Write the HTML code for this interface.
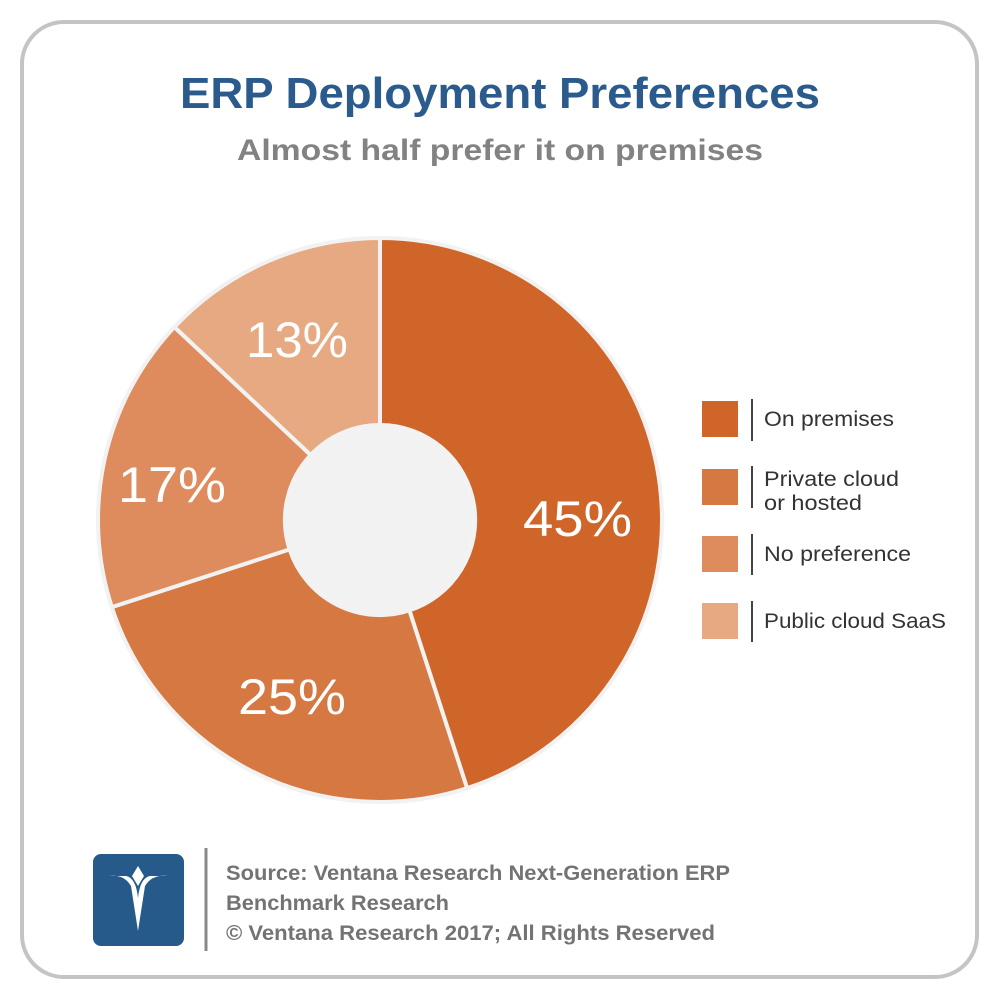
<!DOCTYPE html>
<html><head><meta charset="utf-8"><style>
html,body{margin:0;padding:0;background:#fff;}
svg{display:block;}
</style></head><body>
<svg width="999" height="999" viewBox="0 0 999 999" xmlns="http://www.w3.org/2000/svg" font-family="'Liberation Sans', sans-serif">
<rect x="0" y="0" width="999" height="999" fill="#fff"/>
<rect x="22" y="22" width="955" height="955" rx="42" fill="#fff" stroke="#c4c4c4" stroke-width="4"/>
<text x="180" y="108" textLength="640" lengthAdjust="spacingAndGlyphs" font-size="44" font-weight="bold" fill="#2b5b8c">ERP Deployment Preferences</text>
<text x="237" y="160" textLength="526" lengthAdjust="spacingAndGlyphs" font-size="30" font-weight="bold" fill="#828282">Almost half prefer it on premises</text>
<g stroke="#f2f2f2" stroke-width="4" stroke-linejoin="round">
<path d="M380,238 A282,282 0 0 1 467.1,788.2 L409.4,610.4 A95,95 0 0 0 380,425 Z" fill="#d0652a"/>
<path d="M467.1,788.2 A282,282 0 0 1 111.8,607.1 L289.6,549.4 A95,95 0 0 0 409.4,610.4 Z" fill="#d67841"/>
<path d="M111.8,607.1 A282,282 0 0 1 174.4,327 L310.7,455 A95,95 0 0 0 289.6,549.4 Z" fill="#de8c5e"/>
<path d="M174.4,327 A282,282 0 0 1 380,238 L380,425 A95,95 0 0 0 310.7,455 Z" fill="#e6a982"/>
</g>
<circle cx="380" cy="520" r="93" fill="#f2f2f2"/>
<g fill="#fff" font-size="50">
<text x="523" y="536" textLength="109" lengthAdjust="spacingAndGlyphs">45%</text>
<text x="238" y="714" textLength="108" lengthAdjust="spacingAndGlyphs">25%</text>
<text x="118" y="502" textLength="108" lengthAdjust="spacingAndGlyphs">17%</text>
<text x="246" y="357" textLength="102" lengthAdjust="spacingAndGlyphs">13%</text>
</g>
<rect x="702" y="401" width="36" height="36" fill="#d0652a"/>
<rect x="702" y="469" width="36" height="36" fill="#d67841"/>
<rect x="702" y="536" width="36" height="36" fill="#de8c5e"/>
<rect x="702" y="603" width="36" height="36" fill="#e6a982"/>
<g stroke="#444" stroke-width="2">
<line x1="752" y1="399" x2="752" y2="441"/>
<line x1="752" y1="466" x2="752" y2="508"/>
<line x1="752" y1="534" x2="752" y2="575"/>
<line x1="752" y1="601" x2="752" y2="642"/>
</g>
<g fill="#333" font-size="21">
<text x="764" y="426" textLength="130" lengthAdjust="spacingAndGlyphs">On premises</text>
<text x="764" y="486" textLength="135" lengthAdjust="spacingAndGlyphs">Private cloud</text>
<text x="764" y="510" textLength="98" lengthAdjust="spacingAndGlyphs">or hosted</text>
<text x="764" y="561" textLength="147" lengthAdjust="spacingAndGlyphs">No preference</text>
<text x="764" y="628" textLength="182" lengthAdjust="spacingAndGlyphs">Public cloud SaaS</text>
</g>
<rect x="93" y="854" width="91" height="92" rx="8" fill="#255a8a"/>
<path d="M109,876 Q124,874 131,886 L138,931 L145,886 Q152,874 168,876 L150,876 Q140,878 138,898 Q136,878 126,876 Z" fill="#fff"/>
<path d="M138,866 L144,876 L138,886 L132,876 Z" fill="#fff"/>
<line x1="206" y1="848" x2="206" y2="951" stroke="#888" stroke-width="3"/>
<g fill="#737373" font-size="21" font-weight="bold">
<text x="226" y="880" textLength="504" lengthAdjust="spacingAndGlyphs">Source: Ventana Research Next-Generation ERP</text>
<text x="226" y="910" textLength="223" lengthAdjust="spacingAndGlyphs">Benchmark Research</text>
<text x="226" y="940" textLength="489" lengthAdjust="spacingAndGlyphs">© Ventana Research 2017; All Rights Reserved</text>
</g>
</svg>
</body></html>
